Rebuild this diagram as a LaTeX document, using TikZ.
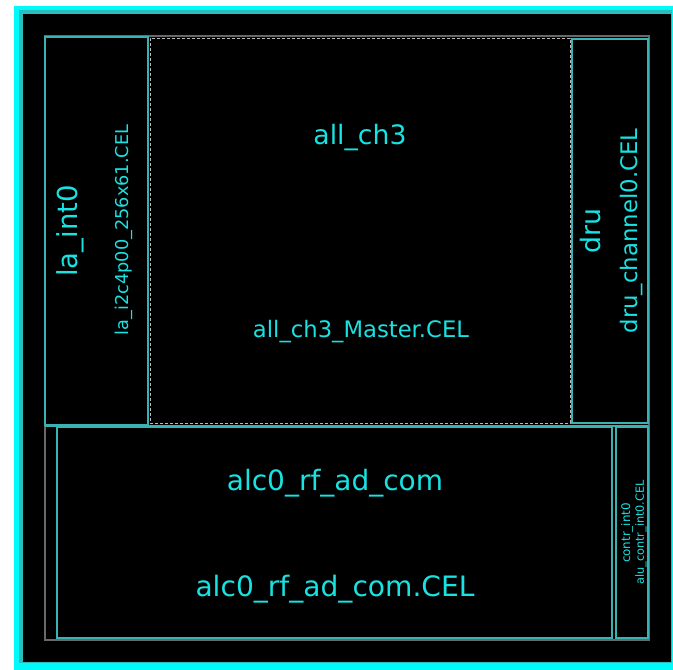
\documentclass[tikz,border=0pt]{standalone}
\usepackage{fontspec}
\setmainfont{DejaVu Sans}
\definecolor{labelcyan}{RGB}{24,226,226}
\definecolor{celledge}{RGB}{56,178,178}
\definecolor{rimcyan}{RGB}{0,250,250}
\definecolor{rimteal}{RGB}{40,190,190}
\definecolor{framegray}{RGB}{105,105,105}
\definecolor{dashgray}{RGB}{185,185,185}
\newcommand{\fs}[1]{\fontsize{#1}{#1}\selectfont}
\begin{document}
\begin{tikzpicture}[x=1pt,y=-1pt,
  cellbox/.style={draw=celledge,line width=1.2pt},
  cellname/.style={text=labelcyan,inner sep=0pt,anchor=center},
  vert/.style={rotate=90}]
\useasboundingbox (0,0) rectangle (673,670);
\fill[white] (0,0) rectangle (673,670);
% layout window rim
\fill[rimcyan] (14,6) rectangle (673,670);
\fill[rimteal] (19,10) rectangle (672,663);
\fill[black] (23,14) rectangle (671,662);
% top cell boundary
\draw[framegray,line width=1.5pt] (45,36) rectangle (649,640);
% sub-cells
\node[cellbox,minimum width=103pt,minimum height=388pt,inner sep=0pt] (la) at (96.5,231) {};
\draw[celledge,line width=1.2pt] (45,426) -- (648,426);
\node[draw=dashgray,line width=1pt,dash pattern=on 3pt off 2pt,minimum width=420pt,minimum height=385pt,inner sep=0pt] (allch) at (360,230.5) {};
\node[cellbox,minimum width=76pt,minimum height=384pt,inner sep=0pt] (dru) at (610,231) {};
\node[cellbox,minimum width=555pt,minimum height=211pt,inner sep=0pt] (alc) at (334.5,532.5) {};
\node[cellbox,minimum width=32pt,minimum height=211pt,inner sep=0pt] (contr) at (632,532.5) {};
% cell labels
\node[cellname,vert,font=\fs{27.5}] (laname) at (70,231) {la\_int0};
\node[cellname,vert,font=\fs{17.7}] (lafile) at (124,230) {la\_i2c4p00\_256x61.CEL};
\node[cellname,font=\fs{26.7}] (allname) at (360,138) {all\_ch3};
\node[cellname,font=\fs{22.7}] (allfile) at (361,331.5) {all\_ch3\_Master.CEL};
\node[cellname,vert,font=\fs{26.8}] (druname) at (591,231) {dru};
\node[cellname,vert,font=\fs{22.8}] (drufile) at (631.5,231) {dru\_channel0.CEL};
\node[cellname,font=\fs{28}] (alcname) at (335,483) {alc0\_rf\_ad\_com};
\node[cellname,font=\fs{28.1}] (alcfile) at (335,589) {alc0\_rf\_ad\_com.CEL};
\node[cellname,vert,font=\fs{11.9}] (contrname) at (627,533) {contr\_int0};
\node[cellname,vert,font=\fs{11.3}] (contrfile) at (641,532.5) {alu\_contr\_int0.CEL};
\end{tikzpicture}
\end{document}
